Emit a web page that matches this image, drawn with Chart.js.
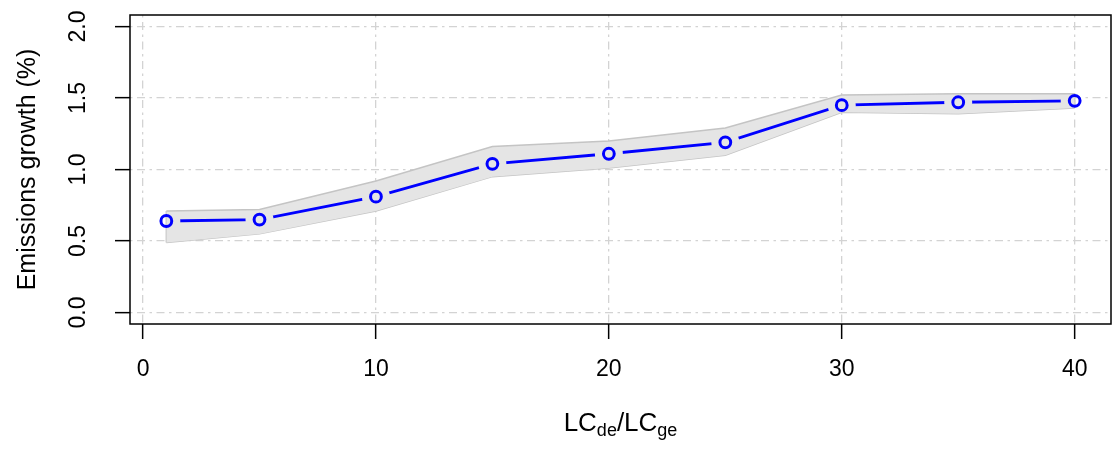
<!DOCTYPE html>
<html>
<head>
<meta charset="utf-8">
<script src="https://cdn.jsdelivr.net/npm/chart.js@4/dist/chart.umd.min.js"></script>
<style>
html,body{margin:0;padding:0;background:#fff;}
#wrap{width:1112px;height:450px;}
</style>
</head>
<body>
<div id="wrap"><canvas id="c" width="1112" height="450"></canvas></div>
<script>
// ---- data ----
const xValues = [1, 5, 10, 15, 20, 25, 30, 35, 40];
const growth  = [0.64, 0.65, 0.81, 1.04, 1.11, 1.19, 1.45, 1.47, 1.48];
const upperCI = [0.71, 0.72, 0.92, 1.16, 1.20, 1.29, 1.52, 1.53, 1.53];
const lowerCI = [0.49, 0.55, 0.71, 0.95, 1.01, 1.10, 1.40, 1.39, 1.43];
const xTicks = [0, 10, 20, 30, 40];
const yTicks = [0, 0.5, 1.0, 1.5, 2.0];
const yTitle = 'Emissions growth (%)';
const xTitleParts = [['LC', false], ['de', true], ['/', false], ['LC', false], ['ge', true]];

const FONT = "'Liberation Sans', Arial, Helvetica, sans-serif";
const pts = (ys) => xValues.map((x, i) => ({x: x, y: ys[i]}));

const gapPlugin = {
  id: 'gap',
  beforeDatasetDraw(chart, args) {
    if (args.index !== 1) return;
    const ctx = chart.ctx;
    const pm = chart.getDatasetMeta(0);
    ctx.save();
    ctx.beginPath();
    ctx.rect(0, 0, chart.width, chart.height);
    pm.data.forEach(p => {
      ctx.moveTo(p.x + 14, p.y);
      ctx.arc(p.x, p.y, 14, 0, Math.PI * 2, true);
    });
    ctx.clip('evenodd');
  },
  afterDatasetDraw(chart, args) {
    if (args.index !== 1) return;
    chart.ctx.restore();
  }
};

const boxPlugin = {
  id: 'box',
  afterDraw(chart) {
    const ctx = chart.ctx, a = chart.chartArea;
    ctx.save();
    ctx.strokeStyle = '#000';
    ctx.lineWidth = 1.5;
    ctx.strokeRect(a.left, a.top, a.right - a.left, a.bottom - a.top);
    // x-axis title with subscripts
    const big = "26px " + FONT, small = "18px " + FONT;
    let total = 0;
    xTitleParts.forEach(([t, sub]) => { ctx.font = sub ? small : big; total += ctx.measureText(t).width; });
    let x = (a.left + a.right) / 2 - total / 2;
    const base = 431;
    ctx.fillStyle = '#000';
    ctx.textBaseline = 'alphabetic';
    ctx.textAlign = 'left';
    xTitleParts.forEach(([t, sub]) => {
      ctx.font = sub ? small : big;
      ctx.fillText(t, x, sub ? base + 5 : base);
      x += ctx.measureText(t).width;
    });
    ctx.restore();
  }
};

const noPad = (s) => { s.paddingTop = 0; s.paddingBottom = 0; s.paddingLeft = 0; s.paddingRight = 0; };

new Chart(document.getElementById('c'), {
  type: 'scatter',
  data: {
    datasets: [
      { // points (top)
        data: pts(growth), showLine: false,
        pointRadius: 5.4, pointHoverRadius: 5.4, pointBorderWidth: 3,
        pointBorderColor: '#0000ff', pointBackgroundColor: 'rgba(0,0,0,0)', order: 0
      },
      { // line
        data: pts(growth), showLine: true, borderColor: '#0000ff', borderWidth: 2.8,
        pointRadius: 0, pointHoverRadius: 0, fill: false, order: 1
      },
      { // upper bound
        data: pts(upperCI), showLine: true, borderColor: '#c4c4c4', borderWidth: 1.5,
        backgroundColor: '#e5e5e5', fill: '+1', pointRadius: 0, order: 2
      },
      { // lower bound
        data: pts(lowerCI), showLine: true, borderColor: '#c4c4c4', borderWidth: 1.5,
        pointRadius: 0, fill: false, order: 3
      },
      { // left edge
        data: [{x: xValues[0], y: upperCI[0]}, {x: xValues[0], y: lowerCI[0]}],
        showLine: true, borderColor: '#c4c4c4', borderWidth: 1.5, pointRadius: 0, order: 4
      },
      { // right edge
        data: [{x: xValues[xValues.length-1], y: upperCI[upperCI.length-1]}, {x: xValues[xValues.length-1], y: lowerCI[lowerCI.length-1]}],
        showLine: true, borderColor: '#c4c4c4', borderWidth: 1.5, pointRadius: 0, order: 5
      }
    ]
  },
  options: {
    responsive: false,
    animation: false,
    events: [],
    layout: { autoPadding: false, padding: { top: 15, right: 1, left: 0, bottom: 0 } },
    plugins: { legend: { display: false }, tooltip: { enabled: false } },
    scales: {
      x: {
        type: 'linear', min: -0.56, max: 41.56,
        afterBuildTicks: (s) => { s.ticks = xTicks.map(v => ({value: v})); },
        afterFit: (s) => { s.height = 126; noPad(s); },
        grid: { color: '#d3d3d3', lineWidth: 1.3, tickColor: '#000', tickWidth: 1.5, tickLength: 15, tickBorderDash: [] },
        border: { display: false, dash: [2.5, 4.5, 8, 4.5] },
        ticks: { color: '#000', font: { family: FONT, size: 23 }, padding: 17, maxRotation: 0, minRotation: 0,
                 callback: (v) => String(v) },
        title: { display: false }
      },
      y: {
        type: 'linear', min: -0.08, max: 2.08,
        afterBuildTicks: (s) => { s.ticks = yTicks.map(v => ({value: v})); },
        afterFit: (s) => { s.width = 130; noPad(s); },
        grid: { color: '#d3d3d3', lineWidth: 1.3, tickColor: '#000', tickWidth: 1.5, tickLength: 15, tickBorderDash: [] },
        border: { display: false, dash: [2.5, 4.5, 8, 4.5] },
        ticks: { color: '#000', font: { family: FONT, size: 23 }, padding: 20, minRotation: 90, maxRotation: 90,
                 crossAlign: 'center', callback: (v) => v.toFixed(1) },
        title: { display: true, text: yTitle, color: '#000', font: { family: FONT, size: 25 }, padding: { top: 13, bottom: 0 } }
      }
    }
  },
  plugins: [gapPlugin, boxPlugin]
});
</script>
</body>
</html>
